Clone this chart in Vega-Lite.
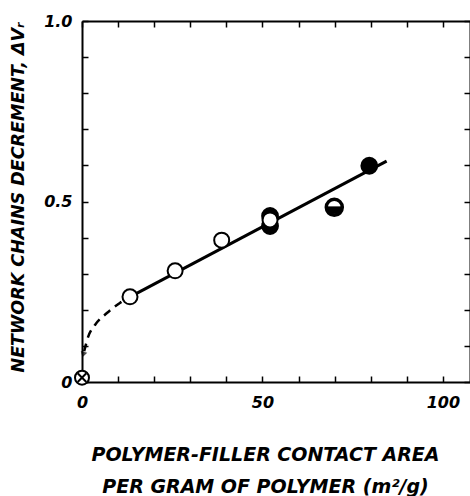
{
  "$schema": "https://vega.github.io/schema/vega-lite/v6.json",
  "width": 388,
  "height": 361,
  "autosize": {"type": "none"},
  "padding": {"left": 82, "top": 21, "right": 0, "bottom": 114},
  "background": "white",
  "config": {
    "view": {"stroke": null},
    "axis": {
      "grid": false,
      "domainColor": "black",
      "domainWidth": 2,
      "tickColor": "black",
      "tickWidth": 1.5,
      "tickSize": -6,
      "labelColor": "black",
      "labelFont": "DejaVu Sans",
      "labelFontSize": 16,
      "labelFontStyle": "italic",
      "labelFontWeight": "bold",
      "titleColor": "black",
      "titleFont": "DejaVu Sans",
      "titleFontStyle": "italic",
      "titleFontWeight": "bold"
    }
  },
  "resolve": {"axis": {"x": "independent", "y": "independent"}},
  "datasets": {
    "points": [
      {"x": 13.3, "y": 0.236, "kind": "open"},
      {"x": 25.8, "y": 0.308, "kind": "open"},
      {"x": 38.7, "y": 0.393, "kind": "open"},
      {"x": 52.1, "y": 0.46, "kind": "filled"},
      {"x": 52.1, "y": 0.432, "kind": "filled"},
      {"x": 52.1, "y": 0.449, "kind": "open"},
      {"x": 69.9, "y": 0.484, "kind": "half"},
      {"x": 79.6, "y": 0.599, "kind": "filled"},
      {"x": 0, "y": 0.012, "kind": "crossed"}
    ],
    "fit": [
      {"x": 13.3, "y": 0.236},
      {"x": 84.4, "y": 0.612}
    ],
    "curve": [
      {"x": 13.3, "y": 0.236},
      {"x": 10.5, "y": 0.219},
      {"x": 6.9, "y": 0.191},
      {"x": 3.6, "y": 0.158},
      {"x": 1.7, "y": 0.125},
      {"x": 0.6, "y": 0.085}
    ],
    "arrow": [
      {"x": 0.35, "y": 0.076}
    ]
  },
  "layer": [
    {
      "data": {"name": "fit"},
      "mark": {"type": "line", "color": "black", "strokeWidth": 3},
      "encoding": {
        "x": {
          "field": "x", "type": "quantitative",
          "scale": {"domain": [0, 107.5], "nice": false, "zero": false},
          "axis": {
            "orient": "bottom",
            "values": [0, 10, 20, 30, 40, 50, 60, 70, 80, 90, 100],
            "labelExpr": "datum.value % 50 === 0 ? datum.label : ''",
            "labelPadding": 18,
            "labelFlush": false,
            "title": ["POLYMER-FILLER CONTACT AREA", "PER GRAM OF POLYMER  (m²/g)"],
            "titleFontSize": 19,
            "titleLineHeight": 32,
            "titleX": 183,
            "titleY": 78,
            "titleAlign": "center",
            "titleBaseline": "alphabetic",
            "titleAnchor": null
          }
        },
        "y": {
          "field": "y", "type": "quantitative",
          "scale": {"domain": [0, 1], "nice": false, "zero": false},
          "axis": {
            "orient": "left",
            "values": [0, 0.1, 0.2, 0.3, 0.4, 0.5, 0.6, 0.7, 0.8, 0.9, 1.0],
            "labelExpr": "datum.value == 0 ? '0' : (abs(datum.value - 0.5) < 0.001 ? '0.5' : (abs(datum.value - 1) < 0.001 ? '1.0' : ''))",
            "labelPadding": 16,
            "labelFlush": false,
            "title": "NETWORK CHAINS DECREMENT, ΔVᵣ",
            "titleFontSize": 17.5,
            "titleAngle": -90,
            "titleX": -64,
            "titleY": 176,
            "titleAlign": "center",
            "titleBaseline": "middle",
            "titleAnchor": null
          }
        }
      }
    },
    {
      "data": {"name": "curve"},
      "mark": {"type": "line", "color": "black", "strokeWidth": 2.5, "strokeDash": [8, 6], "interpolate": "monotone"},
      "encoding": {
        "x": {
          "field": "x", "type": "quantitative",
          "axis": {"orient": "top", "values": [0, 10, 20, 30, 40, 50, 60, 70, 80, 90, 100], "labels": false, "title": null}
        },
        "y": {
          "field": "y", "type": "quantitative",
          "axis": {"orient": "right", "values": [0, 0.1, 0.2, 0.3, 0.4, 0.5, 0.6, 0.7, 0.8, 0.9, 1.0], "labels": false, "title": null}
        }
      }
    },
    {
      "data": {"name": "arrow"},
      "mark": {"type": "point", "shape": "triangle-down", "filled": true, "color": "black", "size": 45, "angle": 15},
      "encoding": {
        "x": {"field": "x", "type": "quantitative", "axis": null},
        "y": {"field": "y", "type": "quantitative", "axis": null}
      }
    },
    {
      "data": {"name": "points"},
      "transform": [{"filter": "datum.kind === 'filled'"}],
      "mark": {"type": "point", "shape": "circle", "filled": true, "fill": "black", "stroke": "black", "strokeWidth": 2, "size": 250, "opacity": 1},
      "encoding": {
        "x": {"field": "x", "type": "quantitative", "axis": null},
        "y": {"field": "y", "type": "quantitative", "axis": null}
      }
    },
    {
      "data": {"name": "points"},
      "transform": [{"filter": "datum.kind === 'open'"}],
      "mark": {"type": "point", "shape": "circle", "filled": true, "fill": "white", "stroke": "black", "strokeWidth": 2, "size": 225, "opacity": 1},
      "encoding": {
        "x": {"field": "x", "type": "quantitative", "axis": null},
        "y": {"field": "y", "type": "quantitative", "axis": null}
      }
    },
    {
      "data": {"name": "points"},
      "transform": [{"filter": "datum.kind === 'half'"}],
      "mark": {"type": "point", "shape": "circle", "filled": true, "fill": "white", "stroke": "black", "strokeWidth": 3.5, "size": 256, "opacity": 1},
      "encoding": {
        "x": {"field": "x", "type": "quantitative", "axis": null},
        "y": {"field": "y", "type": "quantitative", "axis": null}
      }
    },
    {
      "data": {"name": "points"},
      "transform": [{"filter": "datum.kind === 'half'"}],
      "mark": {"type": "point", "shape": "M -0.99 -0.05 A 1 1 0 0 0 0.99 -0.05 Z", "filled": true, "fill": "black", "stroke": "black", "strokeWidth": 1, "size": 256, "opacity": 1},
      "encoding": {
        "x": {"field": "x", "type": "quantitative", "axis": null},
        "y": {"field": "y", "type": "quantitative", "axis": null}
      }
    },
    {
      "data": {"name": "points"},
      "transform": [{"filter": "datum.kind === 'crossed'"}],
      "mark": {"type": "point", "shape": "circle", "filled": true, "fill": "white", "stroke": "black", "strokeWidth": 2, "size": 196, "opacity": 1},
      "encoding": {
        "x": {"field": "x", "type": "quantitative", "axis": null},
        "y": {"field": "y", "type": "quantitative", "axis": null}
      }
    },
    {
      "data": {"name": "points"},
      "transform": [{"filter": "datum.kind === 'crossed'"}],
      "mark": {"type": "point", "shape": "M -0.62 -0.62 L 0.62 0.62 M -0.62 0.62 L 0.62 -0.62", "filled": false, "stroke": "black", "strokeWidth": 2, "size": 196, "opacity": 1},
      "encoding": {
        "x": {"field": "x", "type": "quantitative", "axis": null},
        "y": {"field": "y", "type": "quantitative", "axis": null}
      }
    }
  ]
}
